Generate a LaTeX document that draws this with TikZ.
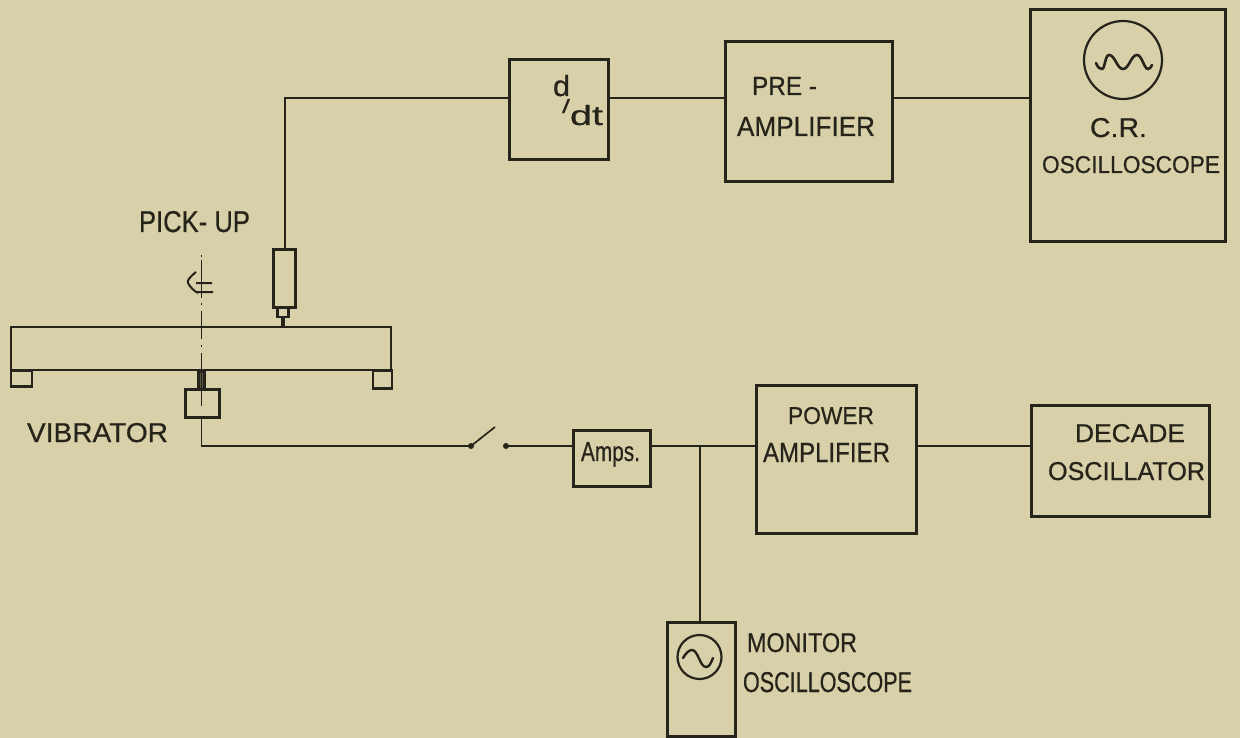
\documentclass[tikz,border=0pt]{standalone}
\usepackage{fontspec}
\setmainfont[FakeBold=0.6]{Liberation Sans}
\definecolor{paper}{HTML}{D8D0A9}
\definecolor{ink}{HTML}{26241A}
\newcommand{\fitt}[3]{\resizebox{#1pt}{#2pt}{\mbox{#3}}}
\tikzset{
  x=1pt,y=-1pt,
  wire/.style={draw=ink,line width=1.7pt},
  box/.style={draw=ink,line width=3pt,rectangle,inner sep=0pt,outer sep=0pt},
  thinbox/.style={draw=ink,line width=2.2pt,rectangle,inner sep=0pt,outer sep=0pt},
  scr/.style={draw=ink,line width=2.2pt,circle,inner sep=0pt,outer sep=0pt},
  lab/.style={text=ink,inner sep=0pt,outer sep=0pt,anchor=base west,font=\fontsize{24}{26}\selectfont},
  dot/.style={circle,fill=ink,draw=none,inner sep=0pt,minimum size=6pt},
}
\begin{document}
\begin{tikzpicture}
\useasboundingbox[fill=paper,draw=none] (0,0) rectangle (1240,738);
% boxes
\node[box,minimum width=99pt,minimum height=100pt] (ddt) at (559,110) {};
\node[box,minimum width=167pt,minimum height=140pt] (pre) at (809,112) {};
\node[box,minimum width=195pt,minimum height=232pt] (cro) at (1128,126) {};
\node[box,minimum width=160pt,minimum height=148pt] (pow) at (836.5,459) {};
\node[box,minimum width=178pt,minimum height=111pt] (dec) at (1120.5,460.5) {};
\node[box,minimum width=77pt,minimum height=56pt] (amp) at (612,458) {};
\node[box,minimum width=68pt,minimum height=114pt] (mon) at (701.5,679.5) {};
\node[scr,minimum size=78pt] (croscr) at (1123,60) {};
\node[scr,minimum size=44pt] (monscr) at (699.5,657) {};
% apparatus
\node[thinbox,minimum width=380pt,minimum height=43pt] (beam) at (201,348.5) {};
\node[thinbox,minimum width=21pt,minimum height=16pt] (footl) at (21.5,378.5) {};
\node[thinbox,minimum width=19pt,minimum height=18pt] (footr) at (382.5,379.5) {};
\node[box,minimum width=22pt,minimum height=57pt] (pick) at (284,278.5) {};
\node[thinbox,minimum width=11pt,minimum height=10pt] (tip) at (283,312) {};
\node[box,minimum width=34pt,minimum height=28pt] (vib) at (202,403.5) {};
\node[thinbox,minimum width=6pt,minimum height=18pt,fill=ink!70!paper] (rod) at (201.5,380.5) {};
% free ends and junctions
\coordinate (wa) at (285,98);
\coordinate (sw1) at (471,446);
\coordinate (blade) at (495,427);
\coordinate (sw2) at (506,446);
\coordinate (tee) at (700,446);
\coordinate (clt) at (201.5,255);
\coordinate (clb) at (201.5,406);
\node[dot] (pivot) at (sw1) {};
\node[dot] (contact) at (sw2) {};
% connectors
\draw[wire] (pick.north -| wa) |- (ddt.west |- wa);
\draw[wire] (ddt.east |- wa) -- (pre.west |- wa);
\draw[wire] (pre.east |- wa) -- (cro.west |- wa);
\draw[wire] (vib.south -| clt) |- (pivot.center);
\draw[wire] (pivot.center) -- (blade);
\draw[wire] (contact.center) -- (amp.west |- contact);
\draw[wire] (amp.east |- contact) -- (pow.west |- contact);
\draw[wire] (tee) -- (mon.north -| tee);
\draw[wire] (pow.east |- contact) -- (dec.west |- contact);
\draw[line width=3.5pt,draw=ink] (tip.south) -- (beam.north -| tip.south);
\draw[line width=1.9pt,draw=ink,dash pattern=on 2pt off 3pt on 38pt off 5pt on 2pt off 6pt on 28pt off 6pt on 2pt off 6pt on 60pt] (clt) -- (clb);
% centre line mark
\draw[line width=2pt,draw=ink,line join=round] (212,283) -- (196,283) (213,292) -- (196,292)
  (196,272) .. controls (190,277) and (187,280) .. (188,283) .. controls (190,287) and (194,291) .. (198,293);
% traces
\draw[line width=2.6pt,draw=ink,line cap=round] (1096,63) .. controls (1098,68) and (1100,69) .. (1102,69)
  .. controls (1105,69) and (1105,55) .. (1109,55)
  .. controls (1115,55) and (1117,69) .. (1123,69)
  .. controls (1129,69) and (1131,55) .. (1137,55)
  .. controls (1142,55) and (1144,69) .. (1148,69)
  .. controls (1150,69) and (1151,67) .. (1152,65);
\draw[line width=2.4pt,draw=ink,line cap=round] (683,658) .. controls (686,653) and (689,650) .. (692,650)
  .. controls (698,650) and (700,667) .. (706,667)
  .. controls (710,667) and (711,662) .. (713,658);
% labels
\node[lab] (tpick) at (139,232) {\fitt{111}{21}{PICK- UP}};
\node[lab] (tvib) at (27,442) {\fitt{141}{19}{VIBRATOR}};
\node[lab] (tddt) at (553,125) {\makebox[50pt][l]{\rlap{\raisebox{29pt}{\fitt{17}{21}{d}}}\rlap{\hspace{9pt}\raisebox{12pt}{\fitt{8}{14}{/}}}\hspace{17pt}\fitt{33}{20}{dt}}};
\node[lab] (tpre) at (752,95) {\fitt{65}{18}{PRE -}};
\node[lab] (tpre2) at (737,136) {\fitt{138}{19}{AMPLIFIER}};
\node[lab] (tcr) at (1090,137) {\fitt{57}{19}{C.R.}};
\node[lab] (tcro) at (1042,173) {\fitt{178}{17}{OSCILLOSCOPE}};
\node[lab] (tpow) at (788,424) {\fitt{86}{17}{POWER}};
\node[lab] (tpow2) at (763,462) {\fitt{127}{19}{AMPLIFIER}};
\node[lab] (tdec) at (1075,442) {\fitt{110}{18}{DECADE}};
\node[lab] (tdec2) at (1048,480) {\fitt{157}{18}{OSCILLATOR}};
\node[lab] (tamp) at (581,461) {\fitt{59}{19}{Amps.}};
\node[lab] (tmon) at (747,652) {\fitt{110}{19}{MONITOR}};
\node[lab] (tmon2) at (743,692) {\fitt{169}{20}{OSCILLOSCOPE}};
\end{tikzpicture}
\end{document}
